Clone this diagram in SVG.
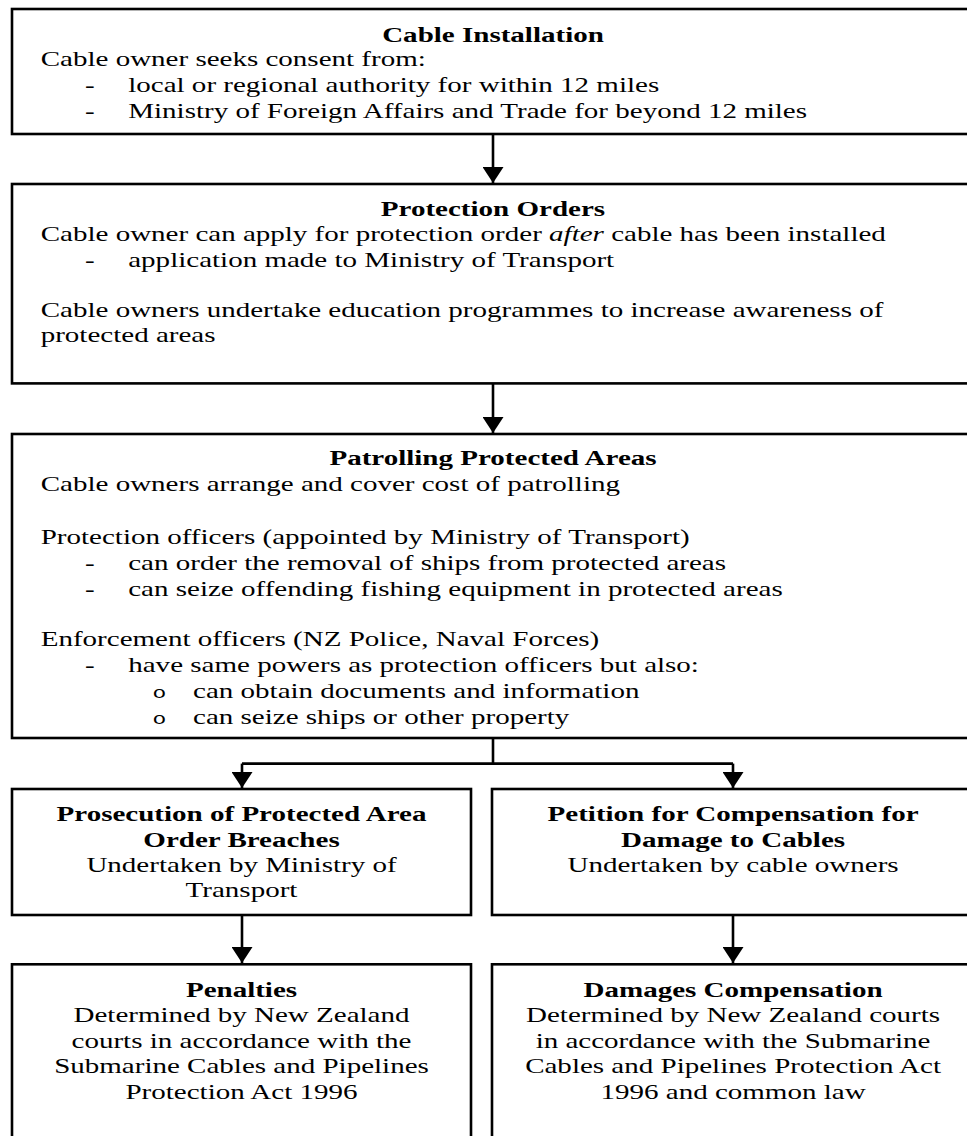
<svg xmlns="http://www.w3.org/2000/svg" width="967" height="1136" viewBox="0 0 967 1136">
<style>
.t{font-family:"Liberation Serif","Times New Roman",serif;font-size:21.5px;fill:#000}
.b{font-weight:bold}
.c{text-anchor:middle}
.o{font-family:"Liberation Mono","Courier New",monospace;font-size:17px}
.box{fill:#fff;stroke:#000;stroke-width:2.6}
.ln{fill:none;stroke:#000;stroke-width:2.6}
</style>
<defs>
<marker id="ah" viewBox="0 0 16 21" refX="16" refY="10.5" markerWidth="16" markerHeight="21" markerUnits="userSpaceOnUse" orient="auto">
<path d="M0,0 L16,10.5 L0,21 z" fill="#000"/>
</marker>
<clipPath id="clipP" clipPathUnits="userSpaceOnUse"><rect x="0" y="434" width="1000" height="295.5"/></clipPath>
</defs>
<rect width="967" height="1136" fill="#fff"/>

<g id="connectors">
<path class="ln" d="M493,134 V183" marker-end="url(#ah)"/>
<path class="ln" d="M493,383.4 V433" marker-end="url(#ah)"/>
<path class="ln" d="M493,738 V763.6"/>
<path class="ln" d="M242,763.6 H733"/>
<path class="ln" d="M242,763.6 V788" marker-end="url(#ah)"/>
<path class="ln" d="M733,763.6 V788" marker-end="url(#ah)"/>
<path class="ln" d="M242,915 V963" marker-end="url(#ah)"/>
<path class="ln" d="M733,915 V963" marker-end="url(#ah)"/>
</g>

<g id="cable-installation">
<rect class="box" x="12" y="9" width="962" height="125"/>
<g transform="scale(1.35 1)">
<text class="t b c" x="365.2" y="42">Cable Installation</text>
<text class="t" x="30.15" y="66.5">Cable owner seeks consent from:</text>
<text class="t" x="63" y="92.5">-</text>
<text class="t" x="95" y="92.5">local or regional authority for within 12 miles</text>
<text class="t" x="63" y="118">-</text>
<text class="t" x="95" y="118">Ministry of Foreign Affairs and Trade for beyond 12 miles</text>
</g>
</g>

<g id="protection-orders">
<rect class="box" x="12" y="184" width="962" height="199.4"/>
<g transform="scale(1.35 1)">
<text class="t b c" x="365.2" y="215.8">Protection Orders</text>
<text class="t" x="30.15" y="241.4">Cable owner can apply for protection order <tspan font-style="italic">after</tspan> cable has been installed</text>
<text class="t" x="63" y="266.8">-</text>
<text class="t" x="95" y="266.8">application made to Ministry of Transport</text>
<text class="t" x="30.15" y="317">Cable owners undertake education programmes to increase awareness of</text>
<text class="t" x="30.15" y="342.5">protected areas</text>
</g>
</g>

<g id="patrolling-protected-areas">
<rect class="box" x="12" y="434" width="962" height="304"/>
<g transform="scale(1.35 1)" clip-path="url(#clipP)">
<text class="t b c" x="365.2" y="465">Patrolling Protected Areas</text>
<text class="t" x="30.15" y="491">Cable owners arrange and cover cost of patrolling</text>
<text class="t" x="30.15" y="543.8">Protection officers (appointed by Ministry of Transport)</text>
<text class="t" x="63" y="570">-</text>
<text class="t" x="95" y="570">can order the removal of ships from protected areas</text>
<text class="t" x="63" y="596.3">-</text>
<text class="t" x="95" y="596.3">can seize offending fishing equipment in protected areas</text>
<text class="t" x="30.15" y="646.5">Enforcement officers (NZ Police, Naval Forces)</text>
<text class="t" x="63" y="672">-</text>
<text class="t" x="95" y="672">have same powers as protection officers but also:</text>
<text class="t o" x="113" y="698">o</text>
<text class="t" x="143" y="698">can obtain documents and information</text>
<text class="t o" x="113" y="723.8">o</text>
<text class="t" x="143" y="723.8">can seize ships or other property</text>
</g>
</g>

<g id="prosecution">
<rect class="box" x="12" y="789" width="459" height="126"/>
<g transform="scale(1.35 1)">
<text class="t b c" x="178.9" y="821">Prosecution of Protected Area</text>
<text class="t b c" x="178.9" y="846.7">Order Breaches</text>
<text class="t c" x="178.9" y="872.3">Undertaken by Ministry of</text>
<text class="t c" x="178.9" y="897.5">Transport</text>
</g>
</g>

<g id="petition">
<rect class="box" x="492" y="789" width="482" height="126"/>
<g transform="scale(1.35 1)">
<text class="t b c" x="543" y="821">Petition for Compensation for</text>
<text class="t b c" x="543" y="846.7">Damage to Cables</text>
<text class="t c" x="543" y="872.3">Undertaken by cable owners</text>
</g>
</g>

<g id="penalties">
<rect class="box" x="12" y="964.3" width="459" height="200"/>
<g transform="scale(1.35 1)">
<text class="t b c" x="178.9" y="997">Penalties</text>
<text class="t c" x="178.9" y="1022.5">Determined by New Zealand</text>
<text class="t c" x="178.9" y="1048">courts in accordance with the</text>
<text class="t c" x="178.9" y="1073.5">Submarine Cables and Pipelines</text>
<text class="t c" x="178.9" y="1099">Protection Act 1996</text>
</g>
</g>

<g id="damages-compensation">
<rect class="box" x="492" y="964.3" width="482" height="200"/>
<g transform="scale(1.35 1)">
<text class="t b c" x="543" y="997">Damages Compensation</text>
<text class="t c" x="543" y="1022.5">Determined by New Zealand courts</text>
<text class="t c" x="543" y="1048">in accordance with the Submarine</text>
<text class="t c" x="543" y="1073.5">Cables and Pipelines Protection Act</text>
<text class="t c" x="543" y="1099">1996 and common law</text>
</g>
</g>
</svg>
